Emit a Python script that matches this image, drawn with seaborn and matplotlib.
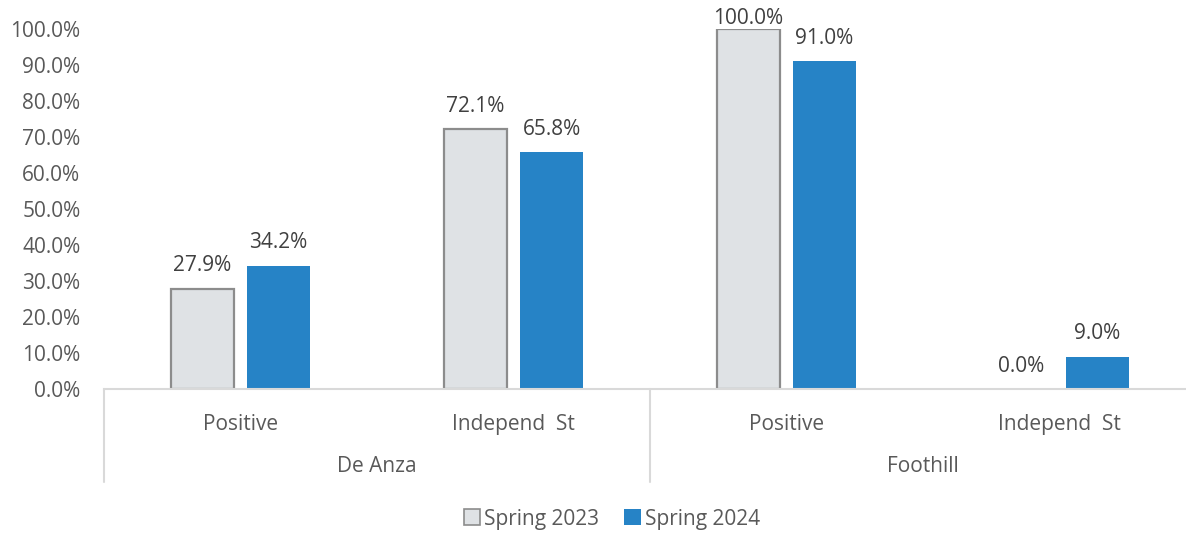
import matplotlib
matplotlib.use("Agg")
import matplotlib.pyplot as plt
import matplotlib.transforms as mtransforms
from matplotlib.patches import Patch
import seaborn as sns
import pandas as pd

colleges = ["De Anza", "De Anza", "Foothill", "Foothill"]
groups = ["Positive", "Independ  St", "Positive", "Independ  St"]
spring_2023 = [27.9, 72.1, 100.0, 0.0]
spring_2024 = [34.2, 65.8, 91.0, 9.0]
terms = ["Spring 2023", "Spring 2024"]
yticks = [0, 10, 20, 30, 40, 50, 60, 70, 80, 90, 100]

gray_fill = "#DFE2E5"
gray_edge = "#8C8C8C"
blue = "#2683C6"
text_color = "#595959"
fs = 15

keys = [f"{c}|{g}" for c, g in zip(colleges, groups)]
df = pd.DataFrame({
    "key": keys * 2,
    "term": [terms[0]] * 4 + [terms[1]] * 4,
    "value": spring_2023 + spring_2024,
})

sns.set_style("white")
plt.rcParams["font.family"] = ["Open Sans", "DejaVu Sans"]

fig = plt.figure(figsize=(11.86, 5.34), dpi=100)
ax = fig.add_axes([104 / 1186, (534 - 389) / 534, 1092 / 1186, 360 / 534])

sns.barplot(data=df, x="key", y="value", hue="term", order=keys,
            palette=[gray_fill, blue], width=0.557, gap=0.184,
            legend=False, ax=ax, saturation=1)

for p in ax.containers[0]:
    p.set_edgecolor(gray_edge if p.get_height() > 0 else "none")
    p.set_linewidth(1.6)
for p in ax.containers[1]:
    p.set_edgecolor("none")

for cont in ax.containers:
    anns = ax.bar_label(cont, labels=[f"{v:.1f}%" for v in cont.datavalues],
                        padding=9, fontsize=fs, color="#404040")
    # keep the top label inside the figure, as the original does
    for a, v in zip(anns, cont.datavalues):
        if v > 95:
            a.xyann = (0, 0)

ax.set_xlim(-0.5, 3.5)
ax.set_ylim(0, 100)
ax.set_yticks(yticks)
ax.set_yticklabels([f"{v:.1f}%" for v in yticks], fontsize=fs, color=text_color)
ax.set_xticks(range(4))
ax.set_xticklabels(groups, fontsize=fs, color=text_color)
ax.tick_params(axis="both", length=0)
ax.tick_params(axis="y", pad=17)
ax.tick_params(axis="x", pad=18)
ax.set_xlabel("")
ax.set_ylabel("")

for s in ["top", "right", "left"]:
    ax.spines[s].set_visible(False)
ax.spines["bottom"].set_color("#D9D9D9")
ax.spines["bottom"].set_linewidth(1.5)

# two-level category axis: separators and college labels
trans = mtransforms.blended_transform_factory(ax.transData, ax.transAxes)
for xb in [-0.5, 1.5, 3.5]:
    ax.plot([xb, xb], [0, -93 / 360], transform=trans, color="#D9D9D9",
            lw=1.5, clip_on=False)
for xc, name in [(0.5, "De Anza"), (2.5, "Foothill")]:
    ax.text(xc, -77 / 360, name, transform=trans, ha="center", va="center",
            fontsize=fs, color=text_color)

handles = [Patch(facecolor=gray_fill, edgecolor=gray_edge, linewidth=1.2),
           Patch(facecolor=blue, edgecolor="none")]
fig.legend(handles, terms, loc="center", bbox_to_anchor=(612 / 1186, 1 - 519 / 534),
           ncol=2, frameon=False, fontsize=fs, handlelength=0.8,
           handleheight=0.8, handletextpad=0.2, columnspacing=1.2,
           labelcolor=text_color)

fig.savefig("out.png", dpi=100)
